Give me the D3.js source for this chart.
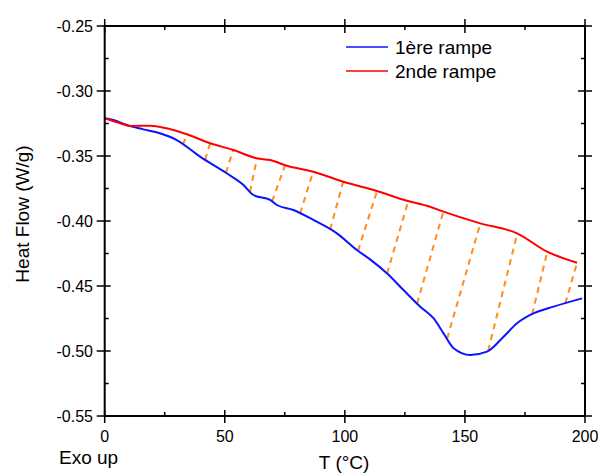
<!DOCTYPE html>
<html>
<head>
<meta charset="utf-8">
<script src="https://cdn.jsdelivr.net/npm/d3@7"></script>
<style>
  html, body { margin: 0; padding: 0; background: #fff; }
  svg { display: block; font-family: "Liberation Sans", Arial, sans-serif; }
</style>
</head>
<body>
<svg id="chart" width="598" height="473"></svg>
<script>
// ---- data ----
const xTicks = [0, 50, 100, 150, 200];
const yTicks = [-0.25, -0.30, -0.35, -0.40, -0.45, -0.50, -0.55];
const yTickLabels = ["-0.25", "-0.30", "-0.35", "-0.40", "-0.45", "-0.50", "-0.55"];
const xMinor = [25, 75, 125, 175];
const yMinor = [-0.275, -0.325, -0.375, -0.425, -0.475, -0.525];

const seriesNames = ["1ère rampe", "2nde rampe"];

const rampe1T  = [0, 4, 9.2, 16.1, 23.0, 30.0, 39.7, 50.8, 57.8, 61.9, 68.9, 71.7, 78.6, 86.9, 96.7, 105.0, 110.5, 117.5, 124.4, 131.4, 136.9, 141.1, 145.3, 152.2, 159.2, 166.1, 171.7, 177.2, 186.9, 198.8];
const rampe1HF = [-0.321, -0.3225, -0.3262, -0.3295, -0.3325, -0.3377, -0.3505, -0.3633, -0.3723, -0.3800, -0.3838, -0.3877, -0.3915, -0.3992, -0.4095, -0.4223, -0.4295, -0.4402, -0.4531, -0.4659, -0.4748, -0.4864, -0.4979, -0.5031, -0.5005, -0.4890, -0.4787, -0.4723, -0.4659, -0.4595];

const rampe2T  = [0, 6.4, 10.5, 18.9, 25.8, 34.2, 43.9, 53.6, 63.3, 68.9, 75.8, 86.9, 99.4, 113.3, 125.8, 135.5, 141.1, 156.4, 171.7, 184.2, 196.7];
const rampe2HF = [-0.321, -0.3248, -0.3269, -0.3267, -0.3287, -0.3333, -0.3402, -0.3454, -0.3518, -0.3531, -0.3575, -0.3621, -0.3698, -0.3769, -0.3844, -0.3890, -0.3928, -0.4018, -0.4095, -0.4236, -0.4321];

// hatch lines: from T on 1ère rampe to T on 2nde rampe
const hatchFromT = [32.6, 41.8, 50.5, 60.5, 69.7, 81.4, 93.9, 105.5, 117.6, 130.1, 142.6, 159.7, 178.0, 191.8];
const hatchToT   = [34.3, 43.9, 53.5, 63.4, 75.1, 86.8, 99.3, 113.4, 126.4, 141.0, 156.4, 171.8, 184.3, 196.7];

// ---- layout ----
const svg = d3.select("#chart");
const x = d3.scaleLinear().domain([0, 200]).range([104.7, 585]);
const y = d3.scaleLinear().domain([-0.55, -0.25]).range([416, 26]);

const interp = (ts, vs) => t => {
  const i = Math.max(1, Math.min(ts.length - 1, d3.bisectRight(ts, t)));
  const t0 = ts[i - 1], t1 = ts[i];
  return vs[i - 1] + (vs[i] - vs[i - 1]) * (t - t0) / (t1 - t0);
};
const f1 = interp(rampe1T, rampe1HF);
const f2 = interp(rampe2T, rampe2HF);

// hatch lines
svg.append("g").selectAll("line").data(hatchFromT).join("line")
  .attr("x1", (d) => x(d)).attr("y1", (d) => y(f1(d)))
  .attr("x2", (d, i) => x(hatchToT[i])).attr("y2", (d, i) => y(f2(hatchToT[i])))
  .attr("stroke", "#ff8c1e").attr("stroke-width", 2)
  .attr("stroke-dasharray", "6,5");

// curves
const line = d3.line().x(d => x(d[0])).y(d => y(d[1])).curve(d3.curveMonotoneX);
svg.append("path").datum(rampe1T.map((t, i) => [t, rampe1HF[i]]))
  .attr("d", line).attr("fill", "none").attr("stroke", "#0a14ff").attr("stroke-width", 2);
svg.append("path").datum(rampe2T.map((t, i) => [t, rampe2HF[i]]))
  .attr("d", line).attr("fill", "none").attr("stroke", "#ff0000").attr("stroke-width", 2);

// frame
svg.append("rect").attr("x", x(0)).attr("y", y(-0.25))
  .attr("width", x(200) - x(0)).attr("height", y(-0.55) - y(-0.25))
  .attr("fill", "none").attr("stroke", "#000").attr("stroke-width", 2);

// ticks
const tk = svg.append("g").attr("stroke", "#000").attr("stroke-width", 1.5);
xTicks.forEach(v => {
  tk.append("line").attr("x1", x(v)).attr("x2", x(v)).attr("y1", y(-0.55) - 6).attr("y2", y(-0.55) + 7);
  tk.append("line").attr("x1", x(v)).attr("x2", x(v)).attr("y1", y(-0.25) - 7).attr("y2", y(-0.25) + 7);
});
xMinor.forEach(v => {
  tk.append("line").attr("x1", x(v)).attr("x2", x(v)).attr("y1", y(-0.55)).attr("y2", y(-0.55) - 4);
  tk.append("line").attr("x1", x(v)).attr("x2", x(v)).attr("y1", y(-0.25)).attr("y2", y(-0.25) + 4);
});
yTicks.forEach(v => {
  tk.append("line").attr("x1", x(0) - 8).attr("x2", x(0) + 6).attr("y1", y(v)).attr("y2", y(v));
  tk.append("line").attr("x1", x(200) - 7).attr("x2", x(200) + 7).attr("y1", y(v)).attr("y2", y(v));
});
yMinor.forEach(v => {
  tk.append("line").attr("x1", x(0)).attr("x2", x(0) + 4).attr("y1", y(v)).attr("y2", y(v));
  tk.append("line").attr("x1", x(200)).attr("x2", x(200) - 4).attr("y1", y(v)).attr("y2", y(v));
});

// tick labels
svg.append("g").selectAll("text").data(xTicks).join("text")
  .attr("x", d => x(d)).attr("y", 442).attr("text-anchor", "middle")
  .attr("font-size", 16).text(d => d);
svg.append("g").selectAll("text").data(yTicks).join("text")
  .attr("x", 93).attr("y", d => y(d) + 5.5).attr("text-anchor", "end")
  .attr("font-size", 16).text((d, i) => yTickLabels[i]);

// axis titles
svg.append("text").attr("x", x(100) - 26).attr("y", 469).attr("font-size", 19).text("T (°C)");
svg.append("text").attr("x", 59).attr("y", 464).attr("font-size", 19).text("Exo up");
svg.append("text").attr("transform", "translate(29,214) rotate(-90)")
  .attr("text-anchor", "middle").attr("font-size", 19).text("Heat Flow (W/g)");

// legend
const legColors = ["#0a14ff", "#ff0000"];
const leg = svg.append("g");
seriesNames.forEach((n, i) => {
  const ly = 47 + i * 24;
  leg.append("line").attr("x1", 346).attr("x2", 388).attr("y1", ly).attr("y2", ly)
    .attr("stroke", legColors[i]).attr("stroke-width", 1.5);
  leg.append("text").attr("x", 395).attr("y", ly + 7).attr("font-size", 19).text(n);
});
</script>
</body>
</html>
